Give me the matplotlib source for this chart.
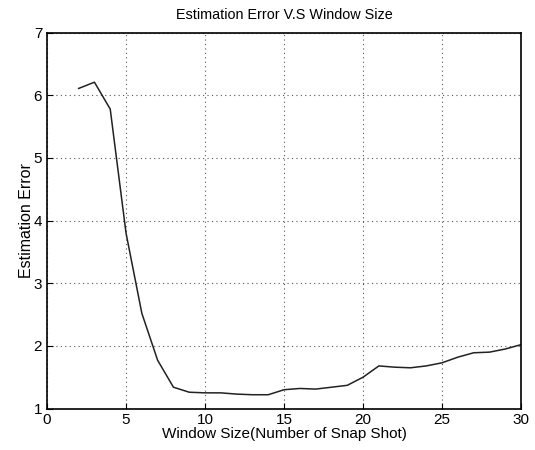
import matplotlib
matplotlib.use("Agg")
import matplotlib.pyplot as plt

window_size = [2, 3, 4, 5, 6, 7, 8, 9, 10, 11, 12, 13, 14, 15, 16, 17, 18, 19, 20,
               21, 22, 23, 24, 25, 26, 27, 28, 29, 30]
est_error = [6.11, 6.21, 5.78, 3.80, 2.52, 1.77, 1.34, 1.26, 1.25, 1.25, 1.23, 1.22, 1.22,
             1.30, 1.32, 1.31, 1.34, 1.37, 1.50, 1.68, 1.66, 1.65, 1.68, 1.73, 1.82, 1.89,
             1.90, 1.95, 2.02]
x_ticks = [0, 5, 10, 15, 20, 25, 30]
y_ticks = [1, 2, 3, 4, 5, 6, 7]

plt.rcParams['font.family'] = ['Liberation Sans', 'DejaVu Sans']
fig = plt.figure(figsize=(5.35, 4.5), dpi=100)
ax = fig.add_axes([0.0879, 0.0922, 0.974 - 0.0879, 0.9273 - 0.0922])
ax.plot(window_size, est_error, color='#222222', linewidth=1.1)
ax.set_xlim(0, 30)
ax.set_ylim(1, 7)
ax.set_xticks(x_ticks)
ax.set_yticks(y_ticks)
ax.grid(True, linestyle=(0, (1, 3)), color='#555555', linewidth=0.8)
ax.tick_params(direction='in', length=4, labelsize=11, color='black')
for s in ax.spines.values():
    s.set_linewidth(1.2)
ax.set_title('Estimation Error V.S Window Size', fontsize=10.4, pad=10)
ax.set_xlabel('Window Size(Number of Snap Shot)', fontsize=11, labelpad=0)
ax.set_ylabel('Estimation Error', fontsize=11.5, labelpad=0)
fig.savefig('out.png', dpi=100)
